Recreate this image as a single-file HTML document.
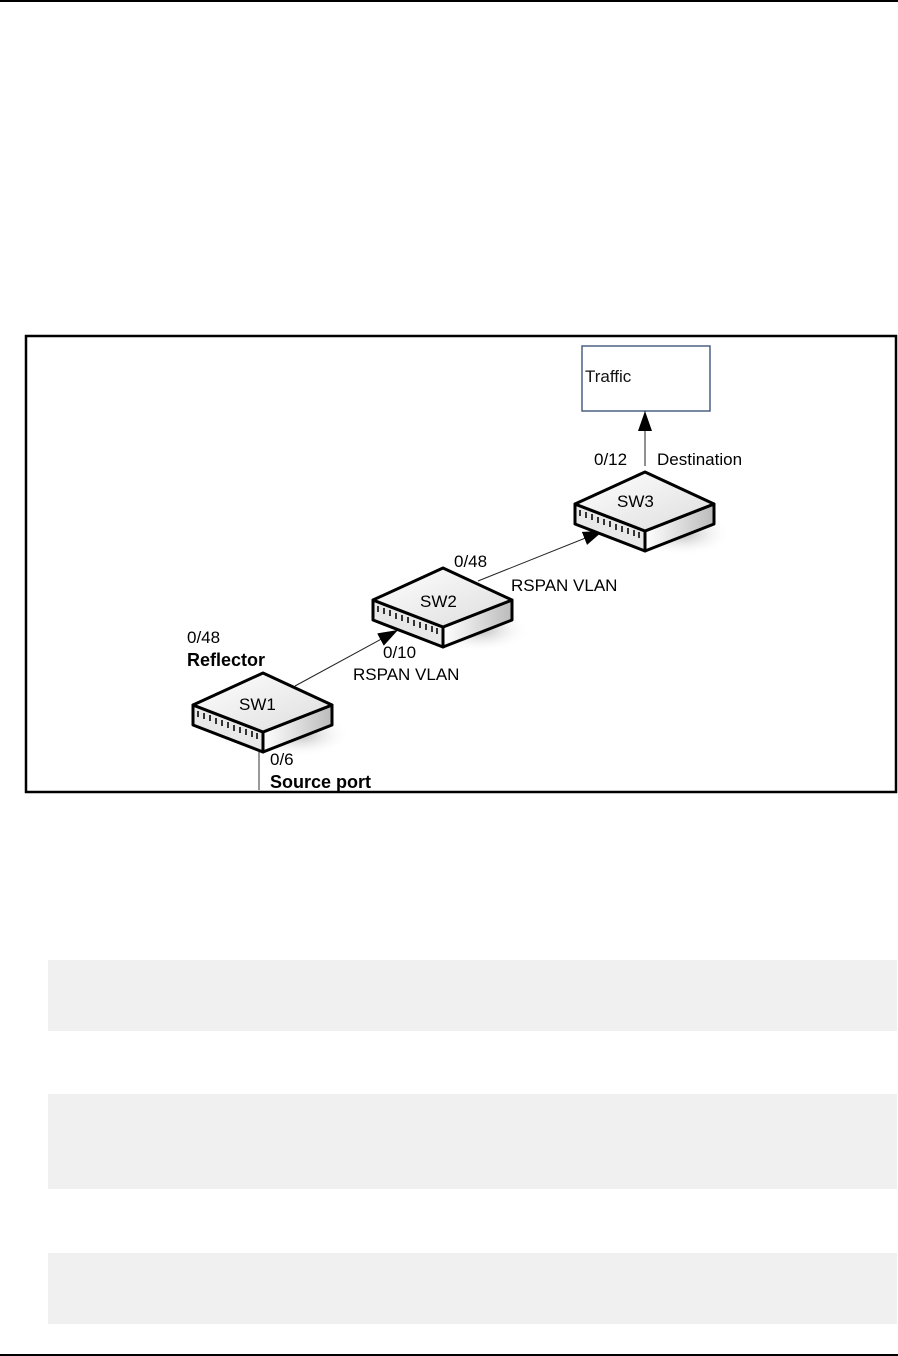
<!DOCTYPE html>
<html><head><style>
html,body{margin:0;padding:0;background:#fff;}
body{width:898px;height:1356px;position:relative;overflow:hidden;font-family:"Liberation Sans",sans-serif;}
.g{position:absolute;left:48px;width:849px;background:#f0f0f0;}
</style></head><body>
<div style="position:absolute;left:0;top:0;width:898px;height:2px;background:#000"></div>
<div style="position:absolute;left:0;top:1354px;width:898px;height:2px;background:#000"></div>
<div class="g" style="top:960px;height:71px"></div>
<div class="g" style="top:1094px;height:95px"></div>
<div class="g" style="top:1253px;height:71px"></div>
<svg width="898" height="1356" style="position:absolute;left:0;top:0" font-family="Liberation Sans, sans-serif">
<defs>
<radialGradient id="sh" cx="0.5" cy="0.5" r="0.5"><stop offset="0" stop-color="#bbb"/><stop offset="1" stop-color="#fff" stop-opacity="0"/></radialGradient>
<linearGradient id="rf" x1="0" y1="0" x2="1" y2="0"><stop offset="0" stop-color="#fff"/><stop offset="1" stop-color="#bbb"/></linearGradient>
<linearGradient id="tp" x1="0" y1="0" x2="1" y2="1"><stop offset="0" stop-color="#fff"/><stop offset="1" stop-color="#ddd"/></linearGradient>
<g id="sw">
<ellipse cx="300" cy="735" rx="50" ry="22" fill="url(#sh)"/>
<polygon points="193,705 263,732 263,752 193,725" fill="#e8e8e8" stroke="#000" stroke-width="3" stroke-linejoin="round"/>
<polygon points="263,732 332,705 332,725 263,752" fill="url(#rf)" stroke="#000" stroke-width="3" stroke-linejoin="round"/>
<polygon points="193,705 263,673 332,705 263,732" fill="url(#tp)" stroke="#000" stroke-width="3" stroke-linejoin="round"/>
<g stroke="#333" stroke-width="2">
<line x1="198" y1="711" x2="198" y2="717"/><line x1="204" y1="713" x2="204" y2="719"/><line x1="210" y1="715" x2="210" y2="721"/><line x1="216" y1="718" x2="216" y2="724"/><line x1="222" y1="720" x2="222" y2="726"/><line x1="228" y1="722" x2="228" y2="728"/><line x1="234" y1="725" x2="234" y2="731"/><line x1="240" y1="727" x2="240" y2="733"/><line x1="246" y1="729" x2="246" y2="735"/><line x1="252" y1="731" x2="252" y2="737"/><line x1="257" y1="733" x2="257" y2="739"/>
</g>
</g>
<marker id="ar" markerWidth="10" markerHeight="10" refX="9" refY="5" orient="auto" markerUnits="userSpaceOnUse" viewBox="0 0 10 10"><path d="M0,0 L10,5 L0,10z" fill="#000"/></marker>
<marker id="ar2" markerWidth="20" markerHeight="14" refX="20" refY="7" orient="auto" markerUnits="userSpaceOnUse"><path d="M0,0 L20,7 L0,14z" fill="#000"/></marker>
</defs>
<rect x="26" y="336" width="870" height="456" fill="none" stroke="#000" stroke-width="2.5"/>
<rect x="582" y="346" width="128" height="65" fill="#fff" stroke="#4a6080" stroke-width="1.5"/>
<text x="585" y="382" font-size="17" fill="#111">Traffic</text>
<line x1="259" y1="750" x2="259" y2="790" stroke="#333" stroke-width="1"/>
<line x1="295" y1="686" x2="398" y2="630" stroke="#222" stroke-width="1" marker-end="url(#ar2)"/>
<line x1="478" y1="581" x2="603" y2="531" stroke="#222" stroke-width="1" marker-end="url(#ar2)"/>
<line x1="645" y1="466" x2="645" y2="411" stroke="#222" stroke-width="1" marker-end="url(#ar2)"/>
<use href="#sw"/>
<use href="#sw" transform="translate(180,-105)"/>
<use href="#sw" transform="translate(382,-201)"/>
<g font-size="17" fill="#000">
<text x="239" y="710">SW1</text>
<text x="420" y="607">SW2</text>
<text x="617" y="507">SW3</text>
<text x="187" y="643">0/48</text>
<text x="187" y="666" font-weight="bold" font-size="18">Reflector</text>
<text x="270" y="765">0/6</text>
<text x="270" y="788" font-weight="bold" font-size="18">Source port</text>
<text x="383" y="658">0/10</text>
<text x="353" y="680">RSPAN VLAN</text>
<text x="454" y="567">0/48</text>
<text x="511" y="591">RSPAN VLAN</text>
<text x="594" y="465">0/12</text>
<text x="657" y="465">Destination</text>
</g>
</svg>
</body></html>
